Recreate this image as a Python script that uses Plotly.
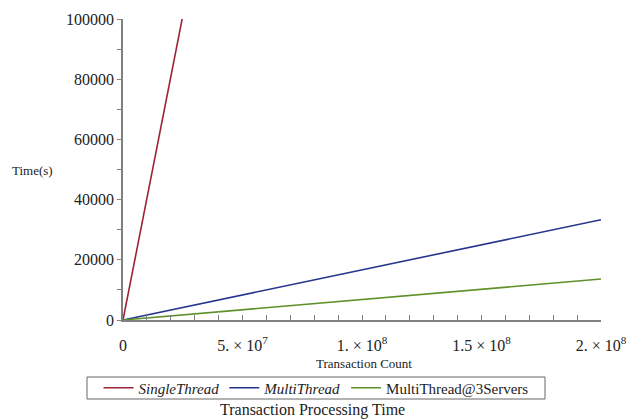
import plotly.graph_objects as go

# Data
series_names = ["<i>SingleThread</i>", "<i>MultiThread</i>", "MultiThread@3Servers"]
series_colors = ["#9B2335", "#27358C", "#5E9128"]
single_x = [0, 2.5e7]
single_y = [0, 101000]
multi_x = [0, 2e8]
multi_y = [0, 33300]
multi3_x = [0, 2e8]
multi3_y = [0, 13600]

x_tickvals = [0, 5e7, 1e8, 1.5e8, 2e8]
x_ticktext = ["0", "5. × 10<sup>7</sup>", "1. × 10<sup>8</sup>", "1.5 × 10<sup>8</sup>", "2. × 10<sup>8</sup>"]
y_tickvals = [0, 20000, 40000, 60000, 80000, 100000]
y_ticktext = [str(v) for v in y_tickvals]

FONT = "Liberation Serif, Times New Roman, serif"

fig = go.Figure()
for xs, ys, nm, col in [(single_x, single_y, series_names[0], series_colors[0]),
                        (multi_x, multi_y, series_names[1], series_colors[1]),
                        (multi3_x, multi3_y, series_names[2], series_colors[2])]:
    fig.add_trace(go.Scatter(x=xs, y=ys, mode="lines", name=nm,
                             line=dict(color=col, width=1.6)))

W, H = 627, 419
L, R, T, B = 123, 26, 19, 99
pw, ph = W - L - R, H - T - B

def px_to_paper(px, py):
    return (px - L) / pw, (H - B - py) / ph

lx0, ly0 = px_to_paper(87, 377)
lx1, ly1 = px_to_paper(545, 399)

fig.update_layout(
    width=W, height=H,
    margin=dict(l=L, r=R, t=T, b=B, autoexpand=False),
    paper_bgcolor="white", plot_bgcolor="white",
    font=dict(family=FONT, size=16, color="#222"),
    showlegend=True,
    legend=dict(
        orientation="h",
        x=px_to_paper(316, 0)[0], xanchor="center",
        y=px_to_paper(0, 388)[1], yanchor="middle",
        borderwidth=0, bgcolor="rgba(0,0,0,0)",
        font=dict(family=FONT, size=15, color="#222"),
        itemwidth=30, tracegroupgap=0,
    ),
    xaxis=dict(
        range=[0, 2e8], showgrid=False, zeroline=False, automargin=False,
        showline=True, linecolor="#808080", linewidth=1.5,
        ticks="inside", ticklen=5, tickcolor="#808080", tickwidth=1.2,
        tickvals=x_tickvals, ticktext=x_ticktext, ticklabelstandoff=10,
        tickfont=dict(family=FONT, size=16, color="#222"),
        minor=dict(dtick=1e7, ticks="inside", ticklen=5, tickcolor="#808080", tick0=0),
    ),
    yaxis=dict(
        range=[0, 100000], showgrid=False, zeroline=False, automargin=False,
        showline=True, linecolor="#808080", linewidth=1.5,
        ticks="outside", ticklen=4, tickcolor="#808080", tickwidth=1.2,
        tickvals=y_tickvals, ticktext=y_ticktext,
        tickfont=dict(family=FONT, size=16, color="#222"),
        minor=dict(dtick=10000, ticks="outside", ticklen=4, tickcolor="#808080", tick0=0),
    ),
    shapes=[dict(type="rect", xref="paper", yref="paper",
                 x0=lx0, y0=ly0, x1=lx1, y1=ly1,
                 line=dict(color="#666", width=1), fillcolor="rgba(0,0,0,0)")],
)

ax, ay = px_to_paper(364, 363)
fig.add_annotation(text="Transaction Count", x=ax, y=ay, xref="paper", yref="paper",
                   showarrow=False, xanchor="center", yanchor="middle",
                   font=dict(family=FONT, size=13, color="#222"))
ax, ay = px_to_paper(32, 170)
fig.add_annotation(text="Time(s)", x=ax, y=ay, xref="paper", yref="paper",
                   showarrow=False, xanchor="center", yanchor="middle",
                   font=dict(family=FONT, size=13, color="#222"))
ax, ay = px_to_paper(312, 410)
fig.add_annotation(text="Transaction Processing Time", x=ax, y=ay, xref="paper", yref="paper",
                   showarrow=False, xanchor="center", yanchor="middle",
                   font=dict(family=FONT, size=16, color="#222"))

fig.write_html("out.html", config={"displayModeBar": False},
               post_script="document.body.style.margin='0';document.body.style.padding='0';")
